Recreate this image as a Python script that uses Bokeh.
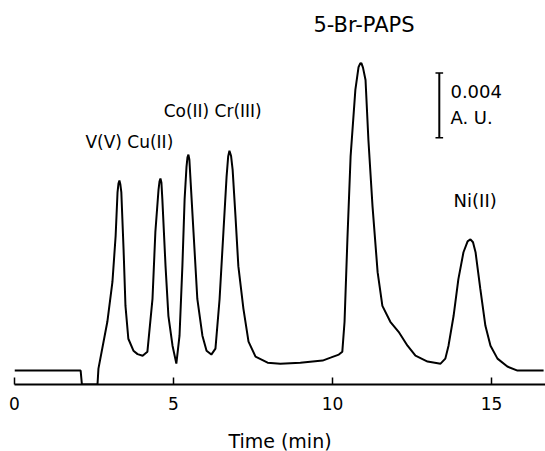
from bokeh.plotting import figure
from bokeh.models import Range1d, FixedTicker, Label, Title
from bokeh.embed import file_html
from bokeh.resources import INLINE

# Chromatogram trace: time (min) and absorbance (mAU)
time_min = [0.0, 2.08, 2.12, 2.61, 2.64, 2.92, 3.08, 3.18, 3.24, 3.27, 3.30, 3.33, 3.36, 3.43, 3.49,
            3.58, 3.74, 3.87, 4.03, 4.18, 4.34, 4.43, 4.53, 4.56, 4.59, 4.62, 4.65, 4.75, 4.84,
            4.97, 5.09, 5.19, 5.28, 5.35, 5.41, 5.44, 5.47, 5.50, 5.53, 5.63, 5.75, 5.91, 6.04,
            6.19, 6.32, 6.45, 6.57, 6.67, 6.72, 6.76, 6.81, 6.86, 6.95, 7.04, 7.20, 7.36, 7.58,
            7.96, 8.36, 8.99, 9.69, 9.94, 10.20, 10.31, 10.38, 10.47, 10.57, 10.72, 10.82, 10.87,
            10.91, 10.96, 11.04, 11.13, 11.26, 11.42, 11.57, 11.82, 12.08, 12.36, 12.61, 12.99,
            13.40, 13.55, 13.65, 13.81, 13.96, 14.12, 14.25, 14.34, 14.42, 14.50, 14.65, 14.81,
            14.97, 15.19, 15.50, 15.82, 16.64]
absorb_mau = [0.86, 0.86, 0.0, 0.0, 0.98, 3.88, 6.34, 9.17, 11.88, 12.43, 12.62, 12.37, 11.88, 8.37, 4.86,
              2.83, 2.09, 1.88, 1.78, 2.03, 5.29, 9.42, 12.06, 12.55, 12.74, 12.50, 11.45, 7.32, 4.25,
              2.40, 1.29, 3.02, 7.32, 11.45, 13.48, 14.05, 14.22, 13.90, 12.86, 9.42, 5.29, 3.02, 2.09,
              1.85, 2.22, 5.29, 9.42, 12.86, 14.10, 14.46, 14.15, 13.29, 10.40, 7.32, 4.68, 2.65, 1.72,
              1.35, 1.29, 1.35, 1.48, 1.66, 1.85, 2.03, 3.88, 8.98, 14.09, 18.22, 19.63, 19.85,
              19.88, 19.60, 18.83, 15.14, 11.02, 6.95, 4.86, 3.88, 3.26, 2.40, 1.78, 1.42,
              1.29, 1.60, 2.40, 4.25, 6.52, 8.18, 8.85, 8.98, 8.80, 8.18, 5.91, 3.63,
              2.40, 1.60, 1.11, 0.86, 0.86]

x_ticks = [0, 5, 10, 15]
scale_bar_mau = 4.0          # 0.004 A.U.
scale_bar_text = ["0.004", "A. U."]
x_label = "Time (min)"

FONT = "DejaVu Sans"

p = figure(width=545, height=451, output_backend="svg", toolbar_location=None,
           x_range=Range1d(0, 16.7), y_range=Range1d(0, 23.75),
           y_axis_location=None, min_border_left=14, min_border_right=0,
           min_border_top=0, min_border_bottom=65)
p.outline_line_color = None
p.grid.visible = False
p.background_fill_color = "white"

ax = p.xaxis[0]
ax.ticker = FixedTicker(ticks=x_ticks)
ax.minor_tick_line_color = None
ax.major_tick_in = 7
ax.major_tick_out = 0
ax.major_tick_line_width = 1.5
ax.axis_line_width = 2
ax.major_label_standoff = 12
ax.major_label_text_font = FONT
ax.major_label_text_font_size = "17px"
ax.major_label_text_color = "black"
# blank spacer label: only reserves room so the title below sits lower
ax.axis_label = " "
ax.axis_label_text_font_size = "1px"
ax.axis_label_standoff = 11

p.add_layout(Title(text=x_label, align="center", offset=25, text_font=FONT,
                   text_font_size="19px", text_font_style="normal", text_color="black",
                   text_line_height=0.8, standoff=0), "below")

p.line(time_min, absorb_mau, line_color="black", line_width=2)

# Scale bar (vertical length = 4 mAU)
sb_t, sb_top = 13.36, 19.26
p.segment(x0=[sb_t], y0=[sb_top - scale_bar_mau], x1=[sb_t], y1=[sb_top],
          line_color="black", line_width=2)
p.segment(x0=[sb_t - 0.12, sb_t - 0.12], y0=[sb_top, sb_top - scale_bar_mau],
          x1=[sb_t + 0.12, sb_t + 0.12], y1=[sb_top, sb_top - scale_bar_mau],
          line_color="black", line_width=1.5)

def lab(x, y, text, size="17px", align="left"):
    p.add_layout(Label(x=x, y=y, text=text, text_font=FONT, text_font_size=size,
                       text_align=align, text_baseline="middle", text_color="black"))

lab(2.23, 14.98, "V(V) Cu(II)")
lab(4.69, 16.89, "Co(II) Cr(III)")
lab(9.40, 22.25, "5-Br-PAPS", size="21px")
lab(13.71, 18.12, scale_bar_text[0], size="18px")
lab(13.71, 16.52, scale_bar_text[1], size="18px")
lab(13.81, 11.35, "Ni(II)", size="18px")

open("out.html", "w").write(file_html(p, INLINE))
